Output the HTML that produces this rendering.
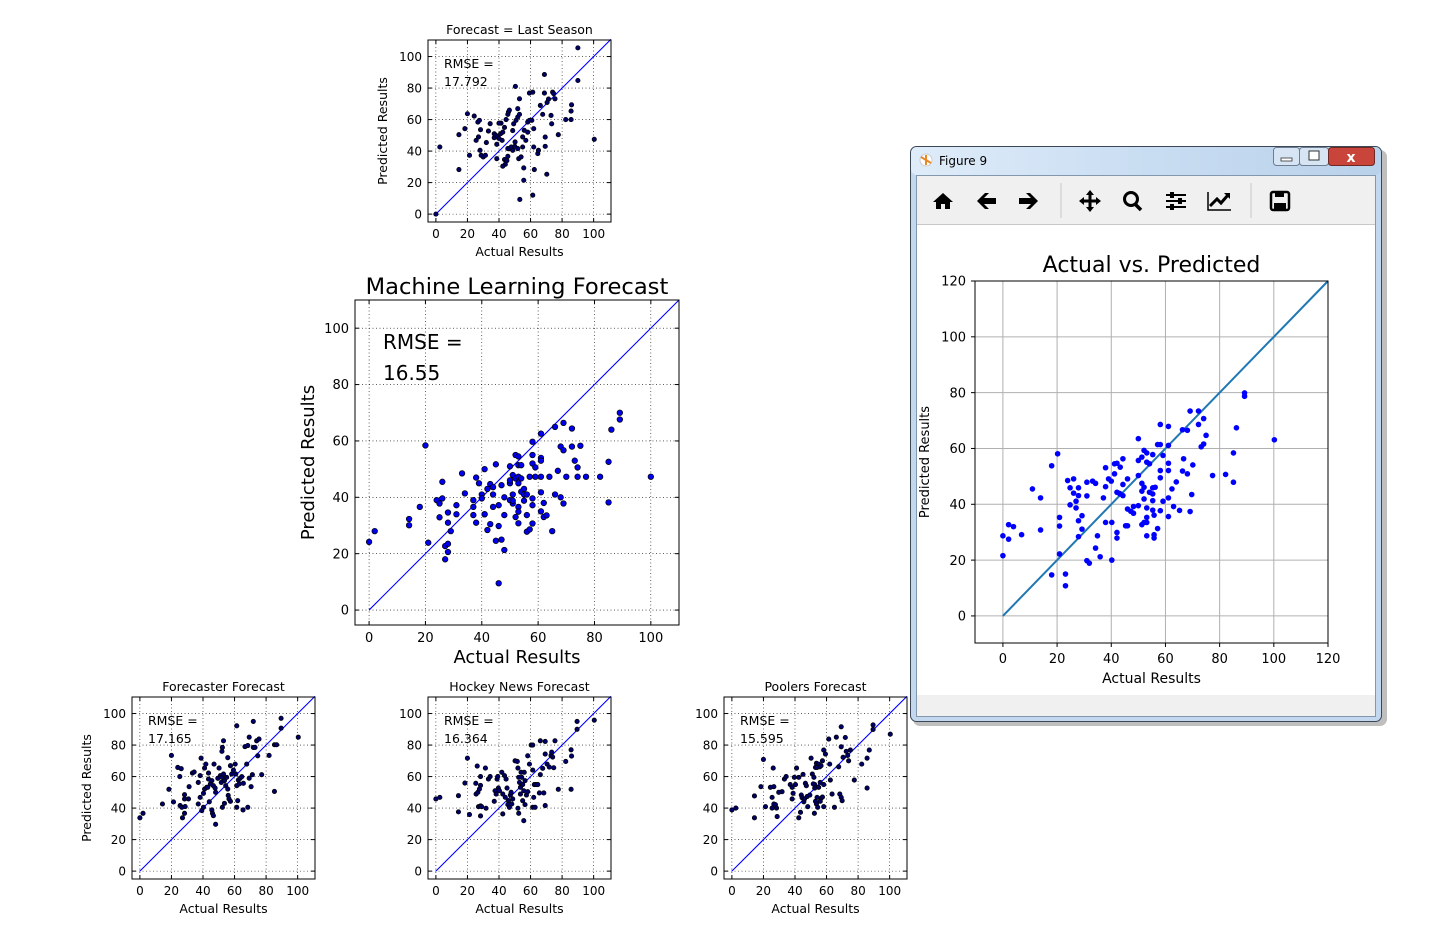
<!DOCTYPE html>
<html><head><meta charset="utf-8"><style>
html,body{margin:0;padding:0;background:#fff;width:1441px;height:930px;overflow:hidden}
svg{display:block;font-family:"DejaVu Sans","Liberation Sans",sans-serif}
</style></head><body>
<svg id="root" width="1441" height="930" viewBox="0 0 1441 930">
<g id="charts"></g>
<g id="win">
  <rect x="913" y="150" width="474" height="576" rx="7" fill="#000" opacity="0.25"/>
  <rect x="910.5" y="146.5" width="471" height="575" rx="6" fill="#c3d8ee" stroke="#3b4756"/>
  <defs><linearGradient id="tb" x1="0" y1="0" x2="1" y2="0"><stop offset="0" stop-color="#dfecf9"/><stop offset="0.5" stop-color="#c9ddf2"/><stop offset="1" stop-color="#b9d1ea"/></linearGradient></defs>
  <rect x="911" y="147" width="470" height="28" rx="6" fill="url(#tb)"/>
  <rect x="916.5" y="175.5" width="459" height="541" fill="#f0f0f0" stroke="#8397ad"/>
  <g><circle cx="926" cy="160" r="6" fill="#fff" stroke="#ccc"/><path d="M921 157 L931 163 M926 155 L926 165" stroke="#e8892a" stroke-width="2"/></g>
  <text x="939" y="165" font-size="12" fill="#000">Figure 9</text>
  <g><rect x="1273.5" y="147.5" width="26" height="18" rx="3" fill="#d6e4f3" stroke="#6d7e92"/><rect x="1281" y="158" width="11" height="3" fill="#fff" stroke="#333" stroke-width="0.8"/></g>
  <g><rect x="1299.5" y="147.5" width="29" height="18" rx="3" fill="#d6e4f3" stroke="#6d7e92"/><rect x="1309" y="151" width="10" height="9" fill="#fff" stroke="#333"/></g>
  <g><rect x="1328.5" y="147.5" width="46" height="18" rx="3" fill="#c9443a" stroke="#6d2a25"/><text x="1351" y="162" font-size="14" font-weight="bold" fill="#fff" text-anchor="middle">x</text></g>
  <g id="toolbar">
    <line x1="1061" y1="183" x2="1061" y2="218" stroke="#c8c8c8"/>
    <line x1="1251" y1="183" x2="1251" y2="218" stroke="#c8c8c8"/>
    <g><path d="M933 202 L943 193 L953 202 L950 202 L950 209 L945 209 L945 204 L941 204 L941 209 L936 209 L936 202 Z" fill="#000"/></g>
    <g><path d="M977 201 L985 193 L989 193 L984 198 L996 198 L996 204 L984 204 L989 209 L985 209 Z" fill="#000"/></g>
    <g><path d="M1038 201 L1030 193 L1026 193 L1031 198 L1019 198 L1019 204 L1031 204 L1026 209 L1030 209 Z" fill="#000"/></g>
    <g><path d="M1090 190 L1094 195 L1091.5 195 L1091.5 199.5 L1096 199.5 L1096 197 L1101 201 L1096 205 L1096 202.5 L1091.5 202.5 L1091.5 207 L1094 207 L1090 212 L1086 207 L1088.5 207 L1088.5 202.5 L1084 202.5 L1084 205 L1079 201 L1084 197 L1084 199.5 L1088.5 199.5 L1088.5 195 L1086 195 Z" fill="#000"/></g>
    <g><circle cx="1131" cy="199" r="6.5" fill="none" stroke="#000" stroke-width="3"/><line x1="1135" y1="204" x2="1141" y2="210" stroke="#000" stroke-width="3.5"/></g>
    <g><path d="M1166 195 H1186 M1166 201 H1186 M1166 207 H1186" stroke="#000" stroke-width="2"/><rect x="1170" y="192" width="4" height="6" fill="#000"/><rect x="1178" y="198" width="4" height="6" fill="#000"/><rect x="1170" y="204" width="4" height="6" fill="#000"/></g>
    <g><path d="M1208 192 V210 H1231" stroke="#000" stroke-width="1.5" fill="none"/><path d="M1210 206 L1217 199 L1221 203 L1228 195" stroke="#000" stroke-width="3" fill="none"/><path d="M1224 193 L1230 193 L1230 199 Z" fill="#000"/></g>
    <g><rect x="1271" y="192" width="18" height="18" rx="2" fill="none" stroke="#000" stroke-width="2.5"/><rect x="1275" y="192" width="9" height="5" fill="#000"/><rect x="1274" y="203" width="12" height="6" fill="#000"/></g>
  </g>
  <rect x="917" y="224" width="458" height="471" fill="#fff"/>
  <line x1="917" y1="224.5" x2="1375" y2="224.5" stroke="#c8c8c8"/>
</g>
</svg>
<script>
const NS='http://www.w3.org/2000/svg';
function mk(tag,attrs,parent){const e=document.createElementNS(NS,tag);for(const k in attrs)e.setAttribute(k,attrs[k]);parent.appendChild(e);return e;}

// ---- data ----
const tickVals=[0,20,40,60,80,100];
const tickValsWin=[0,20,40,60,80,100,120];
const rmseLast="17.792", rmseML="16.55", rmseFc="17.165", rmseHN="16.364", rmsePool="15.595";

const lastX=[0,2.5,14.6,14.6,18.4,20,21.3,24.3,26.6,27.6,25.5,27,28,28.7,30,31.4,28.3,32,33.3,34.4,37,37,38,39,40,41,41.3,40,38.6,38.6,42,42.4,43.5,44,45,42.4,45.6,43.5,44.5,45.6,46,46.6,45.6,46.6,47.7,48.7,50,50.2,48.7,49.3,50.8,51.9,53,51.9,53,50.4,51.9,52.5,54,55,55,56,57,58.2,58.2,59.3,55.7,55.7,53.2,61.4,59.3,61.4,60.8,62,62,62.4,64.6,65,66.2,67.7,68.8,68.8,69.3,69.3,70.3,70.5,71.4,73,73.4,74,74.7,75.5,77.6,82.3,85.7,85.7,86,90,90,100.4];
const lastY=[0,42.6,50.4,28.3,54.2,63.7,37.3,62.2,58.4,59.5,46.8,49,40.5,37.3,36.3,37.3,53.6,45.4,52.7,57.4,51,48.5,50,49,48,51,57.7,57.7,44.3,35.2,46.8,52,34.6,31.6,34,30.4,36.7,55,60,63.3,64.8,66,41.6,41.6,42.6,40.5,43,45.8,53,57.3,59.5,61.6,63.3,66.9,73.2,81,41.6,35.2,36.3,42.6,49,53.2,46.8,52,58.4,59.5,29.3,21.5,9.3,12,76.8,77.4,59.5,54.2,42.6,28.3,38.4,40.5,69,63.3,76.8,88.6,48.9,43,25.3,70.9,73,62.6,57.3,77.4,76.4,73.2,50.4,60,60,65.4,69.4,84.8,105.5,47.5];

const mlX=[0,2,14.2,14.2,18,20,21,24,25,26,26,25,28,28,29,27,28,28,27,31,31,33,34,37,37,37,38,39,38,40,40,41,41,41,42,43,44,44,45,42,43,44,46,46,45,47,48,46,47,48,48,50,50,50,51,51,51,52,53,52,53,53,54,53,54,50,51,52,53,53,53,54,55,55,56,55,56,56,57,57,58,58,58,59,59,61,61,61,61,58,58,58,61,61,62,62,63,64,65,66,67,66,68,69,69,68,69,70,72,72,73,74,74,75,77,82,85,85,86,89,89,100];
const mlY=[24.2,28,32.3,30.1,36.6,58.4,23.9,39,37.8,39.6,45.5,32.9,34.6,31,28,22.7,23.5,20.6,18,37.2,34,48.5,41.4,39,36.6,33.7,47,45,31,41,39.6,34,34,50,43,44.7,41,43.6,51.7,28.4,30.5,36.6,37.2,29.8,24.6,25,21.3,9.5,44.3,40,33.7,51,45,46,47.9,41,37.8,55,54.5,46.7,47.3,45,46.7,51.4,51.4,39,38.8,33,36.6,34.9,30.8,42,43,41,41,38.8,33.7,27.8,28.6,47.3,59.7,55,52,50.6,47.3,54,53,47.3,62.6,39.6,37.2,30.7,41.8,35,38,33,33.6,47.3,28,65,49.4,41,40,37.8,66.4,58,56.7,47.3,64.4,58,53,50.6,47.3,58.3,47.3,47.3,52.6,38.2,64,70,67.6,47.3];

const fcX=[0,2,14.3,18.4,20,21.3,24,26.2,25.3,25.5,26.6,28.7,28.3,28.3,27,28.3,31.2,30.8,33.3,34.4,37,37,38.2,38.2,38.8,39.2,40.3,40.3,41,41,42.4,41.8,43,43.5,44,43.5,44.7,45.6,46.6,47.7,45.6,46,46.6,48,47,48,49.4,50.2,51,51.6,52,52.3,53,52,53,53.6,54.4,55,55.7,56,56.5,52.3,53.6,57.4,55.7,57.4,58.2,59.3,60.4,61.4,60.8,61.4,62,62.4,63,63.5,64.6,65.6,61.4,65.4,68.4,66.6,67.7,68.4,69.3,69.3,70.5,71.3,71.9,73,74,74.7,75.5,71.9,77.2,81.9,85.3,86.7,85.3,89.5,89.5,100.4];
const fcY=[33.8,36.7,42.6,51.9,73.4,43.9,65.8,65,60,41.6,40.5,41,48.5,45.8,33.8,36.7,53.6,45.8,62.2,62.9,56.3,42.6,46.8,60.6,71.7,38.4,40.5,49.4,52.1,65.4,53.2,67.9,53.2,62.2,44,58.4,55.3,57.4,54.2,52.7,38.8,36.7,35.2,29.7,67.9,50,58.9,65.4,60.6,56.3,76,78.5,82.7,59.5,61.6,57.4,54.2,59.5,52.1,48,45.8,40.5,43,44.3,72,66.9,61.6,64.1,67.9,92.2,61.6,54.2,44.7,57.8,55.3,58.9,59.9,55.7,40.5,38.8,40.5,79,67.9,79.7,85,59,53.6,61.2,78.5,78.5,82.7,73.2,83.8,95,61.2,73.4,80.2,80.2,50.6,90.7,97,85];

const hnX=[0,2.5,14.3,14.3,18.4,20,21.3,25.3,25.5,26.6,27.6,26.2,28.3,28.3,27,28.3,29,28.3,31.8,31.4,33.3,34.4,37,37.5,38.2,38.8,39.2,39.6,40.3,41.8,42.4,42.4,43.5,44,44.5,45.1,45.6,46,46.6,47.2,47.7,48.1,48.7,50.2,51.6,52,52.5,53,53.6,54,54.4,55,55.7,56,56.5,52,52.5,53.6,55,55.7,56.5,57.4,58.2,58.2,59.3,60.4,61.4,61.4,62,62.4,63.5,64.6,65.6,61.4,62.9,66.2,67.7,68.4,69.3,69.3,70.5,69.3,66.2,71.9,73,73.4,74,74.7,75.5,77.6,82.3,85.7,86,85.7,89.5,89.5,100.4];
const hnY=[45.8,46.8,47.9,37.6,55.9,71.7,35.9,55.7,48.9,50,52.1,66.7,60,54.4,40.9,41.4,40.9,35,39.9,65.4,58.4,60,44.3,51,48.9,58.4,60,52.7,51,62.7,48.9,36.3,60.6,46.8,58.4,52.7,42.2,44.7,40.5,48.3,50,42.6,45.8,70,69.6,65.4,59.5,56.3,53.2,62.7,59.5,54.9,51,62.7,57.4,39.9,36.7,48.9,44.7,32,42.2,48.3,50.4,73.2,67.9,80,80,64.1,46.8,54.9,54.9,54.9,49.6,40.5,40.5,82.7,65.2,49.6,74.3,82.3,67.9,41.6,61.2,66,73.4,75.5,72.4,65.6,82.7,51.9,69.6,77,73,51.9,95,90,95.8];

const plX=[0,2.5,14.3,14.3,18.4,20,21.3,24.4,26.2,26.6,25.5,26.6,27.6,28.3,28.7,25.5,29.7,31.8,33.3,34.4,37,38.2,38.2,38.8,39.6,40.3,41,42.4,42.4,43.5,44,44.5,45.1,45.6,46,46.6,47.2,47.7,48.1,49.4,50.2,51,52,52.5,53,53.6,54,55,55.7,56.5,57.4,51.6,52.5,53,53.6,54,55,56,56.5,57.4,58.2,58.2,59.3,52.3,54.4,56,58.2,61.4,62,62.4,63.5,65,66.2,67.7,68.4,69.3,69.9,69.3,69.3,70.5,71.9,72.5,73.4,74,75.1,77.6,82.3,85.7,87.1,85.7,89.5,89.5,100.4];
const plY=[38.8,40,47.7,33.8,53.6,70.9,40.9,53.2,65.4,53.6,46.8,42.6,42.2,40,34.6,40,50,50.4,58.4,60,54.9,53.2,45.8,49.4,59.5,54.9,65.4,59.5,33.8,37.3,48.3,46.6,61.4,44,45.8,55.7,54.2,47.3,40.9,48.3,71.7,61.6,59.5,54.9,65.8,68.4,65.8,67.9,66.2,66.9,70,55.3,52.7,44.3,42.6,46.8,53.2,56.3,46.2,47,54.9,76.8,74.3,36.7,40.5,44.3,40.9,83.8,67.9,57.8,48.9,40.5,85,66.2,48.9,46.8,44.7,91.6,78.9,72.2,84.8,76,73.4,70,76.8,57.8,67.9,71.7,76.8,52.7,92.8,89.9,86.9];

const winX=[0,0,2.1,3.9,2.1,6.9,10.9,13.9,13.9,18,20.2,18,23.1,23.1,20.9,20.9,20.9,23.9,26.1,24.8,26.1,27.9,27,27.9,24.8,27,29.2,27.9,29.2,27.9,31,31,33.1,34.2,34.9,34.2,35.9,31,31.9,37.1,37.9,37.9,39,40,37.9,40.2,40.2,41.2,41.2,42.1,43.3,44.3,42.1,43,43.3,44.3,44.3,46,42.1,42.1,45.3,46,46,47.2,48.2,48.2,50,50,50,51.3,52.1,53.1,53.1,54.1,55.3,50,51.3,51.3,52.1,52.1,53.1,53.1,53.1,54.1,55.3,55.3,56.2,55.3,55.3,55.8,57.1,51.3,52.1,53.1,55.8,55.8,57.1,58.1,59.1,58.1,58.1,59.1,58.1,61.1,61.1,61.1,61.1,61.1,62.4,63,64,65.2,58.1,61.1,66.3,68.1,66.7,66.3,68.1,70.1,69.7,69.1,69.1,72.2,74.1,72.2,75,74.1,73.2,77.4,82.2,85.1,85.1,86.2,89.2,89.2,100.2];
const winY=[28.7,21.6,32.7,32,27.5,29.1,45.5,42.3,30.8,53.8,58.1,14.7,15,10.8,35.3,32.2,22.2,48.5,49.1,45.9,44,45.9,41.1,43.1,39.8,38.7,35.9,34.1,31.1,28.4,47.9,43,48.3,47.5,28.7,24.3,21.2,19.8,18.9,42.3,53.1,46.3,49.1,48.3,33.5,33.5,20,54.5,50.9,54.7,53.3,56.3,44.3,43.9,43.7,43.1,47.1,49.1,29.9,27.9,32.3,32.3,38.3,37.5,36.8,39.2,39.5,63.5,55.7,56.9,59.3,58.4,55.1,54.5,57.8,50.3,47.5,44.7,46.1,41.9,38.7,35.3,33.5,44.3,43.7,45.9,46.1,41.3,37.9,36.1,31.3,32.7,33.5,28.7,29.1,27.9,61.4,61.4,57.5,52.1,49.5,41.1,37.7,61.1,54.7,52.1,42.3,35.6,45.5,39.2,48,37.8,68.6,67.9,66.7,66.5,56.3,51.9,50.9,54.1,43.5,37.4,73.4,73.4,70.7,68.6,64.7,61.6,60.6,50.3,50.7,47.9,58.4,67.4,79.9,78.7,63.1];

// ---- drawing ----
function drawChart(parent,c,xs,ys,key){
  const g=mk('g',{},parent);
  
  
  const sx=v=>c.L+(v-c.xmin)/(c.xmax-c.xmin)*c.W;
  const sy=v=>c.T+c.H-(v-c.ymin)/(c.ymax-c.ymin)*c.H;
  const R=c.L+c.W,B=c.T+c.H;
  const grid=mk('g',{},g);
  
  
  c.ticks.forEach(t=>{
    const gs=c.win?{stroke:'#b0b0b0','stroke-width':1}:{stroke:'#000','stroke-width':0.6,'stroke-dasharray':'1,2.5'};
    mk('line',Object.assign({x1:sx(t),x2:sx(t),y1:c.T,y2:B},gs),grid);
    mk('line',Object.assign({x1:c.L,x2:R,y1:sy(t),y2:sy(t)},gs),grid);
  });
  const dl=c.win?c.ticks[c.ticks.length-1]:c.xmax;
  const diag=mk('line',{x1:sx(0),y1:sy(0),x2:sx(dl),y2:sy(dl),stroke:c.win?'#1f77b4':'#0000ff','stroke-width':c.win?2:1.1},g);
  
  
  const pts=mk('g',{},g);
  
  
  for(let i=0;i<xs.length;i++){
    const p=mk('circle',{cx:sx(xs[i]),cy:sy(ys[i]),r:c.r,fill:c.win?'#0000ff':c.fill,stroke:c.win?'none':'#000','stroke-width':0.7},pts);
    
    
  }
  const fr=mk('rect',{x:c.L,y:c.T,width:c.W,height:c.H,fill:'none',stroke:'#000','stroke-width':1},g);
  
  
  const tl=4;
  c.ticks.forEach(t=>{
    if(c.win){
      mk('line',{x1:sx(t),x2:sx(t),y1:B,y2:B+4,stroke:'#000'},g);
      mk('line',{x1:c.L-4,x2:c.L,y1:sy(t),y2:sy(t),stroke:'#000'},g);
    } else {
      mk('line',{x1:sx(t),x2:sx(t),y1:B,y2:B-tl,stroke:'#000'},g);
      mk('line',{x1:sx(t),x2:sx(t),y1:c.T,y2:c.T+tl,stroke:'#000'},g);
      mk('line',{x1:c.L,x2:c.L+tl,y1:sy(t),y2:sy(t),stroke:'#000'},g);
      mk('line',{x1:R,x2:R-tl,y1:sy(t),y2:sy(t),stroke:'#000'},g);
    }
    const xt=mk('text',{x:sx(t),y:B+c.tickFs+c.tickPad,'font-size':c.tickFs,'text-anchor':'middle'},g);
    xt.textContent=t;
    
    
    const yt=mk('text',{x:c.L-c.tickPad-2,y:sy(t)+c.tickFs*0.36,'font-size':c.tickFs,'text-anchor':'end'},g);
    yt.textContent=t;
    
    
  });
  const ti=mk('text',{x:c.L+c.W/2,y:c.titleY,'font-size':c.titleFs,'text-anchor':'middle'},g);
  ti.textContent=c.title;
  
  
  const xl=mk('text',{x:c.L+c.W/2,y:c.xlabY,'font-size':c.labFs,'text-anchor':'middle'},g);
  xl.textContent='Actual Results';
  
  
  if(c.ylabX){
    const cy=c.T+c.H/2;
    const yl=mk('text',{x:c.ylabX,y:cy,'font-size':c.ylabFs||c.labFs,'text-anchor':'middle',transform:'rotate(-90 '+c.ylabX+' '+cy+')'},g);
    yl.textContent='Predicted Results';
    
    
  }
  if(c.rmse){
    const r1=mk('text',{x:c.L+c.rmseDx,y:c.T+c.rmseDy,'font-size':c.rmseFs},g);
    r1.textContent='RMSE =';
    
    
    const r2=mk('text',{x:c.L+c.rmseDx,y:c.T+c.rmseDy+c.rmseGap,'font-size':c.rmseFs},g);
    r2.textContent=c.rmse;
    
    
  }
}
const root=document.getElementById('charts');
function small(L,T,title,rmse,ylab){
  return {L:L,T:T,W:183,H:182,xmin:-5,xmax:111,ymin:-5,ymax:110.5,ticks:tickVals,r:2.2,fill:'#000066',
    tickFs:12,tickPad:4,titleFs:12.5,titleY:T-6,labFs:12.5,xlabY:T+216,ylabX:ylab?L-41:null,
    title:title,rmse:rmse,rmseDx:16,rmseDy:28,rmseGap:18,rmseFs:12.5};
}
drawChart(root,small(428,40,'Forecast = Last Season',rmseLast,true),lastX,lastY,'last-season');
drawChart(root,{L:355,T:300,W:324,H:325,xmin:-5,xmax:110,ymin:-5.3,ymax:110,ticks:tickVals,r:2.8,fill:'#0000ee',
  tickFs:13,tickPad:4,titleFs:22.6,titleY:294,labFs:18,xlabY:663,ylabX:314,title:'Machine Learning Forecast',
  rmse:rmseML,rmseDx:28,rmseDy:49,rmseGap:31,rmseFs:20},mlX,mlY,'machine-learning');
drawChart(root,small(132,697,'Forecaster Forecast',rmseFc,true),fcX,fcY,'forecaster');
drawChart(root,small(428,697,'Hockey News Forecast',rmseHN,false),hnX,hnY,'hockey-news');
drawChart(root,small(724,697,'Poolers Forecast',rmsePool,false),plX,plY,'poolers');
drawChart(root,{L:975,T:281,W:353,H:362,xmin:-10.3,xmax:120,ymin:-9.7,ymax:120,ticks:tickValsWin,r:2.8,win:true,
  tickFs:13,tickPad:7,titleFs:22,titleY:272,labFs:14,ylabFs:13,xlabY:683,ylabX:929,title:'Actual vs. Predicted'},winX,winY,'actual-vs-predicted');
const winChart=root.lastChild;
document.getElementById('root').appendChild(winChart);
</script>
</body></html>
